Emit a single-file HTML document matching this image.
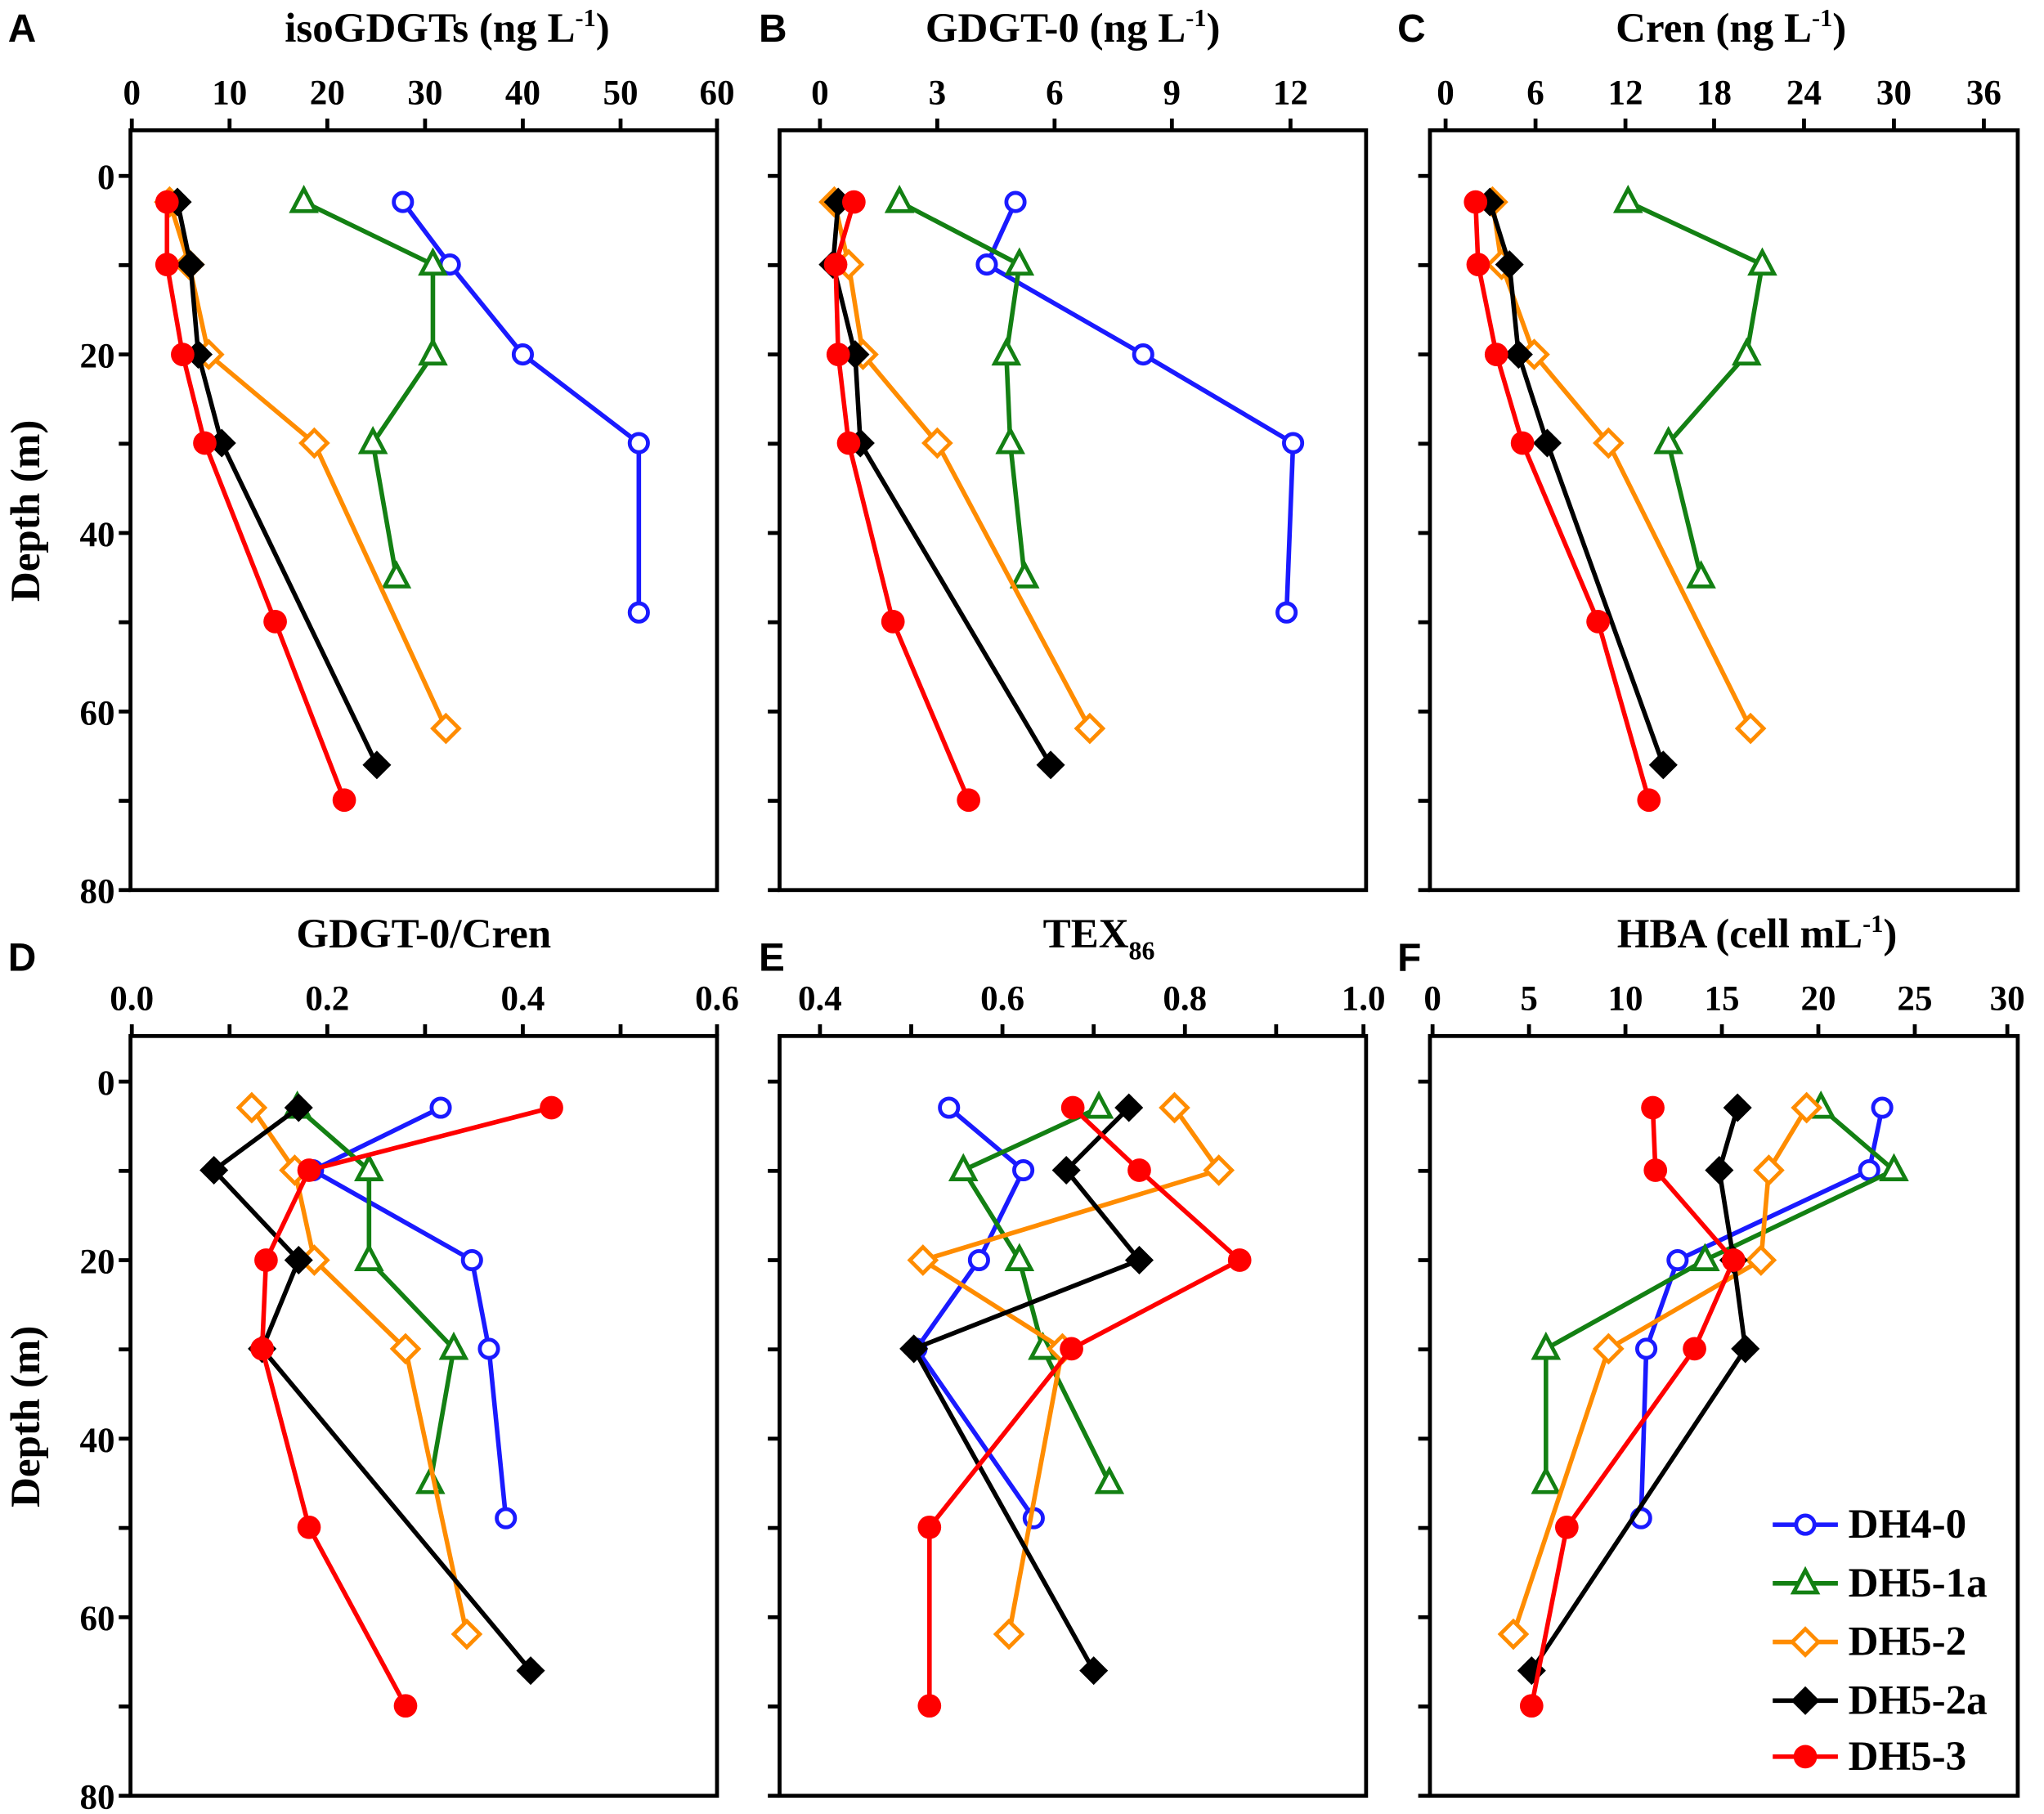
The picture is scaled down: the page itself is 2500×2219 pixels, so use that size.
<!DOCTYPE html>
<html><head><meta charset="utf-8">
<style>
html,body{margin:0;padding:0;background:#fff;}
svg{display:block;}
text{font-family:"Liberation Serif",serif;font-weight:bold;fill:#000;}
.lt{font-family:"Liberation Sans",sans-serif;font-size:30px;}
.tk{font-size:27px;}
.ti{font-size:32px;}
</style></head>
<body>
<svg id="s" width="2500" height="2219" viewBox="0 0 1568 1392" xmlns="http://www.w3.org/2000/svg">
<g fill="none" stroke="#000" stroke-width="3">
<rect x="100" y="100" width="450" height="583"/>
<rect x="598" y="100" width="450" height="583"/>
<rect x="1097" y="100" width="451" height="583"/>
<rect x="100" y="795" width="450" height="583"/>
<rect x="598" y="795" width="450" height="583"/>
<rect x="1097" y="795" width="451" height="583"/>
</g>
<g id="ticks" stroke="#000" stroke-width="3"></g>
<text class="lt" x="6" y="32">A</text>
<text class="lt" x="582" y="32">B</text>
<text class="lt" x="1072" y="32">C</text>
<text class="lt" x="6" y="745">D</text>
<text class="lt" x="582" y="745">E</text>
<text class="lt" x="1072" y="745">F</text>
<text class="ti" x="343" y="32" text-anchor="middle">isoGDGTs (ng L<tspan font-size="19" dy="-12">-1</tspan><tspan dy="12">)</tspan></text>
<text class="ti" x="823" y="32" text-anchor="middle">GDGT-0 (ng L<tspan font-size="19" dy="-12">-1</tspan><tspan dy="12">)</tspan></text>
<text class="ti" x="1328" y="32" text-anchor="middle">Cren (ng L<tspan font-size="19" dy="-12">-1</tspan><tspan dy="12">)</tspan></text>
<text class="ti" x="325" y="727" text-anchor="middle">GDGT-0/Cren</text>
<text class="ti" x="843" y="727" text-anchor="middle">TEX<tspan font-size="20" dy="9">86</tspan></text>
<text class="ti" x="1348" y="727" text-anchor="middle">HBA (cell mL<tspan font-size="19" dy="-12">-1</tspan><tspan dy="12">)</tspan></text>
<g class="tk" text-anchor="middle">
<text x="101" y="80">0</text><text x="176" y="80">10</text><text x="251" y="80">20</text><text x="326" y="80">30</text><text x="401" y="80">40</text><text x="476" y="80">50</text><text x="550" y="80">60</text>
<text x="629" y="80">0</text><text x="719" y="80">3</text><text x="809" y="80">6</text><text x="899" y="80">9</text><text x="990" y="80">12</text>
<text x="1109" y="80">0</text><text x="1178" y="80">6</text><text x="1247" y="80">12</text><text x="1315" y="80">18</text><text x="1384" y="80">24</text><text x="1453" y="80">30</text><text x="1522" y="80">36</text>
<text x="101" y="775">0.0</text><text x="251" y="775">0.2</text><text x="401" y="775">0.4</text><text x="550" y="775">0.6</text>
<text x="629" y="775">0.4</text><text x="769" y="775">0.6</text><text x="909" y="775">0.8</text><text x="1046" y="775">1.0</text>
<text x="1099" y="775">0</text><text x="1173" y="775">5</text><text x="1247" y="775">10</text><text x="1321" y="775">15</text><text x="1395" y="775">20</text><text x="1469" y="775">25</text><text x="1540" y="775">30</text>
</g>
<g class="tk" text-anchor="end">
<text x="88" y="145">0</text><text x="88" y="282">20</text><text x="88" y="419">40</text><text x="88" y="556">60</text><text x="88" y="693">80</text>
<text x="88" y="840">0</text><text x="88" y="977">20</text><text x="88" y="1114">40</text><text x="88" y="1251">60</text><text x="88" y="1388">80</text>
</g>
<text class="ti" transform="translate(30,392) rotate(-90)" text-anchor="middle">Depth (m)</text>
<text class="ti" transform="translate(30,1087) rotate(-90)" text-anchor="middle">Depth (m)</text>
<g id="series"></g>
<g class="ti">
<text x="1418" y="1180">DH4-0</text>
<text x="1418" y="1225">DH5-1a</text>
<text x="1418" y="1270">DH5-2</text>
<text x="1418" y="1315">DH5-2a</text>
<text x="1418" y="1358">DH5-3</text>
</g>
</svg>
<script>
var NS="http://www.w3.org/2000/svg";
function el(n,a,p){var e=document.createElementNS(NS,n);for(var k in a)e.setAttribute(k,a[k]);p.appendChild(e);return e;}
var T=document.getElementById("ticks");
function tx(xs,y){xs.forEach(function(x){el("line",{x1:x,y1:y,x2:x,y2:y-9},T);});}
tx([101,176,251,326,401,476,550],100);tx([629,719,809,899,990],100);tx([1109,1178,1247,1315,1384,1453,1522],100);
tx([101,176,251,326,401,476,550],795);tx([629,699,769,839,909,979,1046],795);tx([1099,1173,1247,1321,1395,1469,1540],795);
[100,598,1097].forEach(function(x){for(var i=0;i<=8;i++){[135,830].forEach(function(y0){el("line",{x1:x,y1:y0+i*68.5,x2:x-9,y2:y0+i*68.5},T);});}});
var S=document.getElementById("series");
var C={b:"#1a1aff",g:"#138013",o:"#ff8c00",k:"#000",r:"#ff0000"};
function mk(t,x,y){
 if(t=="b")el("circle",{cx:x,cy:y,r:7,fill:"#fff",stroke:C.b,"stroke-width":3},S);
 if(t=="g")el("polygon",{points:(x)+","+(y-10)+" "+(x-9)+","+(y+7)+" "+(x+9)+","+(y+7),fill:"#fff",stroke:C.g,"stroke-width":3},S);
 if(t=="o")el("polygon",{points:x+","+(y-10)+" "+(x+10)+","+y+" "+x+","+(y+10)+" "+(x-10)+","+y,fill:"#fff",stroke:C.o,"stroke-width":3},S);
 if(t=="k")el("polygon",{points:x+","+(y-11)+" "+(x+11)+","+y+" "+x+","+(y+11)+" "+(x-11)+","+y,fill:"#000"},S);
 if(t=="r")el("circle",{cx:x,cy:y,r:9,fill:C.r},S);
}
function ser(t,p){el("polyline",{points:p.map(function(q){return q.join(",")}).join(" "),fill:"none",stroke:C[t],"stroke-width":3.5},S);p.forEach(function(q){mk(t,q[0],q[1]);});}
var D=[
["b",[[309,155],[345,203],[401,272],[490,340],[490,470]]],
["g",[[233,155],[332,203],[332,272],[286,340],[304,443]]],
["o",[[130,155],[145,203],[160,272],[241,340],[342,559]]],
["k",[[136,155],[146,203],[152,272],[170,340],[289,587]]],
["r",[[128,155],[128,203],[140,272],[157,340],[211,477],[264,614]]],
["b",[[779,155],[757,203],[877,272],[992,340],[987,470]]],
["g",[[690,155],[782,203],[772,272],[775,340],[786,443]]],
["o",[[640,155],[651,203],[662,272],[719,340],[836,559]]],
["k",[[643,155],[639,203],[656,272],[660,340],[806,587]]],
["r",[[655,155],[641,203],[643,272],[651,340],[685,477],[743,614]]],
["g",[[1249,155],[1352,203],[1340,272],[1280,340],[1305,443]]],
["o",[[1145,155],[1152,203],[1177,272],[1234,340],[1343,559]]],
["k",[[1143,155],[1158,203],[1165,272],[1187,340],[1276,587]]],
["r",[[1132,155],[1134,203],[1148,272],[1168,340],[1226,477],[1265,614]]],
["b",[[338,850],[240,898],[362,967],[375,1035],[388,1165]]],
["g",[[228,850],[283,898],[283,967],[348,1035],[330,1138]]],
["o",[[193,850],[226,898],[241,967],[311,1035],[358,1254]]],
["k",[[229,850],[164,898],[229,967],[201,1035],[407,1282]]],
["r",[[423,850],[237,898],[204,967],[201,1035],[237,1172],[311,1309]]],
["b",[[728,850],[785,898],[751,967],[703,1035],[793,1165]]],
["g",[[843,850],[739,898],[782,967],[800,1035],[851,1138]]],
["o",[[901,850],[935,898],[708,967],[815,1035],[774,1254]]],
["k",[[866,850],[818,898],[874,967],[701,1035],[839,1282]]],
["r",[[823,850],[874,898],[951,967],[822,1035],[713,1172],[713,1309]]],
["b",[[1444,850],[1434,898],[1287,967],[1263,1035],[1259,1165]]],
["g",[[1397,850],[1453,898],[1308,967],[1186,1035],[1186,1138]]],
["o",[[1386,850],[1357,898],[1351,967],[1234,1035],[1161,1254]]],
["k",[[1333,850],[1319,898],[1330,967],[1339,1035],[1175,1282]]],
["r",[[1268,850],[1270,898],[1330,967],[1300,1035],[1202,1172],[1175,1309]]],
["b",[[1360,1170],[1410,1170]]],["g",[[1360,1215],[1410,1215]]],["o",[[1360,1260],[1410,1260]]],["k",[[1360,1305],[1410,1305]]],["r",[[1360,1348],[1410,1348]]]
];
D.forEach(function(d,i){
 if(i>=D.length-5){el("line",{x1:d[1][0][0],y1:d[1][0][1],x2:d[1][1][0],y2:d[1][1][1],stroke:C[d[0]],"stroke-width":3.5},S);mk(d[0],1385,d[1][0][1]);}
 else ser(d[0],d[1]);
});
</script>
</body></html>
